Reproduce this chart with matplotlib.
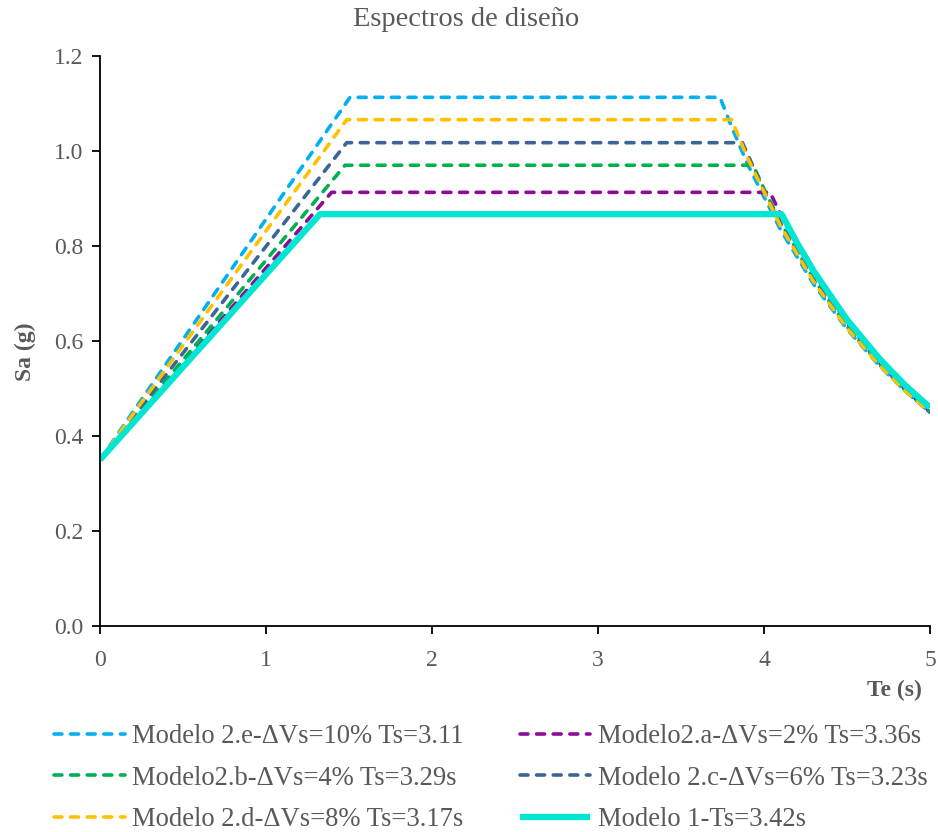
import matplotlib
matplotlib.use("Agg")
import matplotlib.pyplot as plt

plt.rcParams['font.family'] = ['Liberation Serif', 'DejaVu Serif']

# ---- data ----
Te_e = [0, 1.506, 3.735, 3.8, 3.9, 4.1, 4.3, 4.5, 4.7, 4.85, 5.0]
Sa_e = [0.35, 1.113, 1.113, 1.055, 0.973, 0.834, 0.719, 0.625, 0.546, 0.495, 0.45]

Te_a = [0, 1.395, 4.036, 4.1, 4.3, 4.5, 4.7, 4.85, 5.0]
Sa_a = [0.35, 0.913, 0.913, 0.867, 0.741, 0.638, 0.552, 0.498, 0.45]

Te_b = [0, 1.476, 3.935, 4.0, 4.1, 4.3, 4.5, 4.7, 4.85, 5.0]
Sa_b = [0.35, 0.970, 0.970, 0.920, 0.850, 0.730, 0.630, 0.549, 0.496, 0.45]

Te_c = [0, 1.486, 3.87, 4.0, 4.1, 4.3, 4.5, 4.7, 4.85, 5.0]
Sa_c = [0.35, 1.0175, 1.0175, 0.916, 0.847, 0.728, 0.630, 0.548, 0.496, 0.45]

Te_d = [0, 1.486, 3.805, 3.9, 4.1, 4.3, 4.5, 4.7, 4.85, 5.0]
Sa_d = [0.35, 1.066, 1.066, 0.986, 0.842, 0.724, 0.627, 0.547, 0.495, 0.45]

Te_1 = [0, 1.325, 4.106, 4.2, 4.3, 4.5, 4.7, 4.85, 5.0]
Sa_1 = [0.35, 0.867, 0.867, 0.806, 0.747, 0.645, 0.561, 0.507, 0.46]

labels = ["Modelo 2.e-ΔVs=10% Ts=3.11",
          "Modelo2.a-ΔVs=2% Ts=3.36s",
          "Modelo2.b-ΔVs=4% Ts=3.29s",
          "Modelo 2.c-ΔVs=6% Ts=3.23s",
          "Modelo 2.d-ΔVs=8% Ts=3.17s",
          "Modelo 1-Ts=3.42s"]
colors = ["#00B0F0", "#8E0B98", "#00B050", "#3C6496", "#FFC000", "#00E6D2"]

yticks = [0.0, 0.2, 0.4, 0.6, 0.8, 1.0, 1.2]
xticks = [0, 1, 2, 3, 4, 5]

GRAY = "#595959"

fig = plt.figure(figsize=(9.38, 8.32), dpi=100)
ax = fig.add_axes([100/938, 1 - 626/832, 830/938, 570/832])

series = [(Te_e, Sa_e), (Te_a, Sa_a), (Te_b, Sa_b), (Te_c, Sa_c), (Te_d, Sa_d)]
handles = []
for (x, y), lab, col in zip(series, labels[:5], colors[:5]):
    ln, = ax.plot(x, y, color=col, lw=2.6, linestyle=(0, (2.2, 2.4)),
                  dash_capstyle='round', solid_joinstyle='round', label=lab)
    handles.append(ln)
ln1, = ax.plot(Te_1, Sa_1, color=colors[5], lw=4.5, solid_capstyle='butt',
               label=labels[5])
handles.append(ln1)

ax.set_xlim(0, 5)
ax.set_ylim(0, 1.2)
ax.set_xticks(xticks)
ax.set_xticklabels([str(v) for v in xticks])
ax.set_yticks(yticks)
ax.set_yticklabels([f"{v:.1f}" for v in yticks])
for s in ['top', 'right']:
    ax.spines[s].set_visible(False)
for s in ['left', 'bottom']:
    ax.spines[s].set_linewidth(1.3)
    ax.spines[s].set_color('black')
ax.tick_params(axis='both', direction='out', length=6, width=1.3, color='black',
               labelsize=17, labelcolor=GRAY)
ax.tick_params(axis='x', pad=11)
ax.tick_params(axis='y', pad=6)

fig.text(466/938, 1 - 19/832, "Espectros de diseño", ha='center', va='center',
         fontsize=20.5, color=GRAY)
fig.text(25/938, 1 - 352/832, "Sa (g)", ha='center', va='center', rotation=90,
         fontsize=17, fontweight='bold', color=GRAY)
fig.text(922/938, 1 - 690/832, "Te (s)", ha='right', va='center',
         fontsize=17, fontweight='bold', color=GRAY)

order = [0, 2, 4, 1, 3, 5]
leg = fig.legend([handles[i] for i in order], [labels[i] for i in order],
                 ncol=2, loc='upper left', bbox_to_anchor=(54/938, 1 - 724/832),
                 frameon=False, fontsize=19.2, handlelength=2.65,
                 handletextpad=0.28, columnspacing=2.1, labelspacing=0.62,
                 borderpad=0, borderaxespad=0)
for t in leg.get_texts():
    t.set_color(GRAY)

fig.savefig("out.png", dpi=100)
